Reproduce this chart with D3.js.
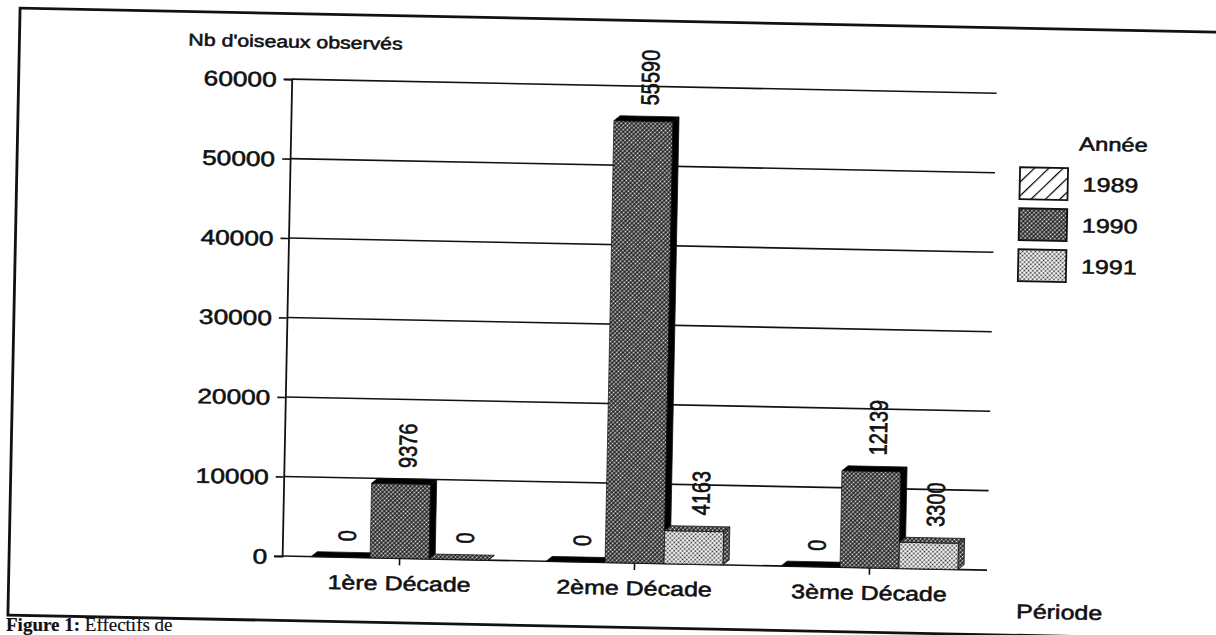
<!DOCTYPE html>
<html>
<head>
<meta charset="utf-8">
<script src="https://cdn.jsdelivr.net/npm/d3@7"></script>
<style>
  body { margin: 0; background: #fff; }
  svg { display: block; }
  text { font-family: "Liberation Sans", Arial, sans-serif; fill: #111; stroke: #111; stroke-width: 0.55px; }
</style>
</head>
<body>
<div id="chartContainer"></div>
<script>
var categories = ["1ère Décade", "2ème Décade", "3ème Décade"];
var years = ["1989", "1990", "1991"];
var values1989 = [0, 0, 0];
var values1990 = [9376, 55590, 12139];
var values1991 = [0, 4163, 3300];
var yTicks = [0, 10000, 20000, 30000, 40000, 50000, 60000];

var seriesValues = { "1989": values1989, "1990": values1990, "1991": values1991 };

function drawChart() {
  var W = 1216, H = 635;
  var sx = 1.25;          // scanned print is wider than it is tall
  var depth = 6, rise = 5; // 3d offset of the bars

  var svg = d3.select("#chartContainer")
    .append("svg")
    .attr("width", W)
    .attr("height", H);

  var defs = svg.append("defs");

  var hatch = defs.append("pattern")
    .attr("id", "hatch")
    .attr("patternUnits", "userSpaceOnUse")
    .attr("width", 10).attr("height", 10)
    .attr("patternTransform", "rotate(45)");
  hatch.append("rect").attr("width", 10).attr("height", 10).attr("fill", "#fff");
  hatch.append("line").attr("x1", 0).attr("y1", 0).attr("x2", 0).attr("y2", 10)
    .attr("stroke", "#000").attr("stroke-width", 2.4);

  var dark = defs.append("pattern")
    .attr("id", "dark")
    .attr("patternUnits", "userSpaceOnUse")
    .attr("width", 3).attr("height", 3)
    .attr("patternTransform", "rotate(45)");
  dark.append("rect").attr("width", 3).attr("height", 3).attr("fill", "#1e1e1e");
  dark.append("circle").attr("cx", 1.5).attr("cy", 1.5).attr("r", 0.9).attr("fill", "#f0f0f0");

  var light = defs.append("pattern")
    .attr("id", "light")
    .attr("patternUnits", "userSpaceOnUse")
    .attr("width", 3).attr("height", 3)
    .attr("patternTransform", "rotate(45)");
  light.append("rect").attr("width", 3).attr("height", 3).attr("fill", "#fff");
  light.append("circle").attr("cx", 1.5).attr("cy", 1.5).attr("r", 0.95).attr("fill", "#222");

  var frontFill = { "1989": "url(#hatch)", "1990": "url(#dark)", "1991": "url(#light)" };
  var shadeFill = { "1989": "#000", "1990": "#000", "1991": "url(#dark)" };

  // the whole page sits slightly tilted on the scanner
  var g = svg.append("g").attr("transform", "rotate(1.15, 608, 317)");

  g.append("rect")
    .attr("x", 14).attr("y", 20)
    .attr("width", 1260).attr("height", 607)
    .attr("fill", "none")
    .attr("stroke", "#111")
    .attr("stroke-width", 2.8);

  var x0 = d3.scaleBand().domain(categories).range([287, 992]).padding(0);
  var groupW = 177;
  var x1 = d3.scaleBand().domain(years).range([0, groupW]).padding(0);
  var y = d3.scaleLinear().domain([0, 60000]).range([562.5, 85.5]);

  // grid
  g.append("g")
    .selectAll("line")
    .data(yTicks)
    .enter()
    .append("line")
    .attr("x1", 287).attr("x2", 992)
    .attr("y1", function(d) { return y(d); })
    .attr("y2", function(d) { return y(d); })
    .attr("stroke", "#111")
    .attr("stroke-width", 1.6);

  // y axis
  var yAxis = g.append("g")
    .attr("transform", "translate(287,0)")
    .call(d3.axisLeft(y).tickValues(yTicks).tickSize(8).tickFormat(d3.format("d")));
  yAxis.select(".domain").attr("stroke", "#111").attr("stroke-width", 1.8);
  yAxis.selectAll(".tick line").attr("stroke", "#111").attr("stroke-width", 1.6);
  yAxis.selectAll(".tick text")
    .attr("x", null).attr("dy", null)
    .attr("transform", "translate(-15,7.5) scale(" + sx + ",1)")
    .attr("font-size", "21px")
    .attr("font-family", "'Liberation Sans', Arial, sans-serif")
    .attr("fill", "#111");

  // x axis
  var xAxis = g.append("g")
    .attr("transform", "translate(0," + y(0) + ")")
    .call(d3.axisBottom(x0).tickSize(7).tickSizeOuter(0));
  xAxis.select(".domain").remove();
  xAxis.selectAll(".tick line").attr("stroke", "#111").attr("stroke-width", 1.6);
  xAxis.selectAll(".tick text")
    .attr("y", null).attr("dy", null)
    .attr("transform", "translate(0,32) scale(" + sx + ",1)")
    .attr("font-size", "20px")
    .attr("font-family", "'Liberation Sans', Arial, sans-serif")
    .attr("fill", "#111");

  // bars
  var bars = [];
  categories.forEach(function(c, i) {
    years.forEach(function(yr) {
      bars.push({ cat: c, year: yr, value: seriesValues[yr][i] });
    });
  });

  var off = (x0.bandwidth() - groupW) / 2;
  function bx(d) { return x0(d.cat) + off + x1(d.year); }
  var bw = x1.bandwidth();

  var barG = g.selectAll(".bar")
    .data(bars)
    .enter()
    .append("g")
    .attr("class", "bar");

  barG.append("rect")
    .attr("x", bx)
    .attr("y", function(d) { return y(d.value); })
    .attr("width", bw)
    .attr("height", function(d) { return y(0) - y(d.value); })
    .attr("fill", function(d) { return frontFill[d.year]; })
    .attr("stroke", "#111")
    .attr("stroke-width", 0.7);

  barG.append("path")
    .attr("d", function(d) {
      var a = bx(d), t = y(d.value);
      return "M" + a + "," + t + "L" + (a + depth) + "," + (t - rise) +
        "L" + (a + bw + depth) + "," + (t - rise) + "L" + (a + bw) + "," + t + "Z";
    })
    .attr("fill", function(d) { return shadeFill[d.year]; })
    .attr("stroke", "#111")
    .attr("stroke-width", 0.8);

  barG.append("path")
    .attr("d", function(d) {
      var a = bx(d) + bw, t = y(d.value), b = y(0);
      return "M" + a + "," + t + "L" + (a + depth) + "," + (t - rise) +
        "L" + (a + depth) + "," + (b - rise) + "L" + a + "," + b + "Z";
    })
    .attr("fill", function(d) { return shadeFill[d.year]; })
    .attr("stroke", "#111")
    .attr("stroke-width", 0.8);

  g.selectAll(".value")
    .data(bars)
    .enter()
    .append("text")
    .attr("class", "value")
    .attr("transform", function(d) {
      return "translate(" + (bx(d) + bw / 2 + 6) + "," + (y(d.value) - 16) + ") scale(" + sx + ",1) rotate(-90)";
    })
    .attr("dy", "0.35em")
    .attr("font-size", "20px")
    .text(function(d) { return d.value; });

  // titles
  g.append("text")
    .attr("transform", "translate(183,54) scale(" + sx + ",1)")
    .attr("font-size", "17px")
    .text("Nb d'oiseaux observés");

  g.append("text")
    .attr("transform", "translate(1065,610) scale(" + sx + ",1)")
    .attr("text-anchor", "middle")
    .attr("font-size", "20px")
    .text("Période");

  // legend
  var legend = g.append("g");
  legend.append("text")
    .attr("transform", "translate(1110,141) scale(" + sx + ",1)")
    .attr("text-anchor", "middle")
    .attr("font-size", "19px")
    .text("Année");

  var item = legend.selectAll(".item")
    .data(years)
    .enter()
    .append("g")
    .attr("class", "item")
    .attr("transform", function(d, i) { return "translate(1017," + (159 + i * 41) + ")"; });

  item.append("rect")
    .attr("width", 48).attr("height", 32)
    .attr("fill", function(d) { return frontFill[d]; })
    .attr("stroke", "#111")
    .attr("stroke-width", 1.8);

  item.append("text")
    .attr("transform", "translate(63,23) scale(" + sx + ",1)")
    .attr("font-size", "20px")
    .text(function(d) { return d; });

  // caption under the frame
  var cap = svg.append("text")
    .attr("x", 6).attr("y", 631)
    .attr("font-size", "19px")
    .style("font-family", "'Liberation Serif', 'Times New Roman', serif")
    .style("stroke-width", "0.2px");
  cap.append("tspan").attr("font-weight", "bold").text("Figure 1: ");
  cap.append("tspan").text("Effectifs de");
}

drawChart();
</script>
</body>
</html>
